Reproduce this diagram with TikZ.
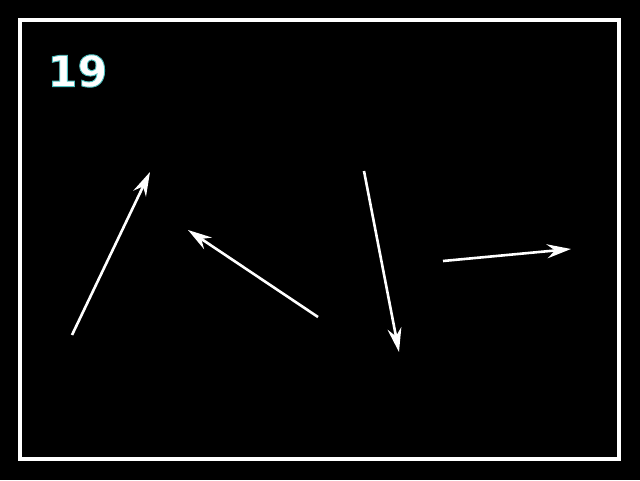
\documentclass[tikz,border=0pt]{standalone}
\usepackage{fontspec}
\setmainfont{DejaVu Sans}
\usetikzlibrary{arrows.meta}
\newcommand{\glowtext}[1]{\special{pdf:literal direct 2 Tr 0.9 w 0.3 0.75 0.75 RG}#1\special{pdf:literal direct 0 Tr}}
\begin{document}
\begin{tikzpicture}[x=1pt,y=-1pt,
  vec/.style={draw=white,line width=2.6pt,-{Stealth[length=24pt,width=14pt,inset=8pt]}},
  lbl/.style={text=white,font=\fontsize{43}{43}\selectfont\bfseries,anchor=west}]
\fill[black] (0,0) rectangle (640,480);
\useasboundingbox (0,0) rectangle (640,480);
\draw[white,line width=4pt] (20,20) rectangle (619,459);
\node[lbl] (num) at (44,71) {\glowtext{19}};
\coordinate (a1) at (72,335); \coordinate (b1) at (150,172);
\coordinate (a2) at (318,317); \coordinate (b2) at (188,230);
\coordinate (a3) at (364,171); \coordinate (b3) at (399,352);
\coordinate (a4) at (443,261); \coordinate (b4) at (571,249);
\draw[vec] (a1) -- (b1);
\draw[vec] (a2) -- (b2);
\draw[vec] (a3) -- (b3);
\draw[vec] (a4) -- (b4);
\end{tikzpicture}
\end{document}
